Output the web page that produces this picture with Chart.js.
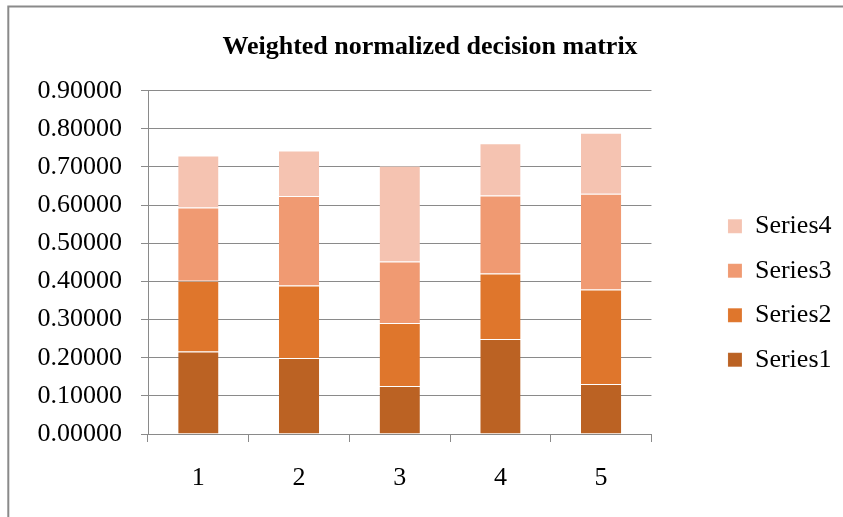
<!DOCTYPE html>
<html>
<head>
<meta charset="utf-8">
<script src="https://cdn.jsdelivr.net/npm/chart.js@4/dist/chart.umd.min.js"></script>
<style>
  html, body { margin: 0; padding: 0; background: #ffffff; }
  #wrap { width: 843px; height: 517px; }
</style>
</head>
<body>
<div id="wrap"><canvas id="matrixChart" width="843" height="517"></canvas></div>
<script>
// data
const alternatives = ['1', '2', '3', '4', '5'];
const series1 = [0.216, 0.199, 0.126, 0.249, 0.131];
const series2 = [0.186, 0.190, 0.165, 0.172, 0.248];
const series3 = [0.192, 0.235, 0.161, 0.204, 0.251];
const series4 = [0.136, 0.119, 0.251, 0.137, 0.160];
const yTicks = [0, 0.1, 0.2, 0.3, 0.4, 0.5, 0.6, 0.7, 0.8, 0.9];

const serif = 'Liberation Serif';

// grey frame of the chart (only left and top are visible in the crop)
const framePlugin = {
    id: 'frame',
    beforeDraw: function (chart) {
        const c = chart.ctx;
        c.save();
        c.fillStyle = '#ffffff';
        c.fillRect(0, 0, chart.width, chart.height);
        c.strokeStyle = '#8a8a8a';
        c.lineWidth = 2;
        c.beginPath();
        c.moveTo(8.3, chart.height);
        c.lineTo(8.3, 6.5);
        c.lineTo(chart.width, 6.5);
        c.stroke();
        c.restore();
    }
};

function makeSet(label, data, color) {
    return {
        label: label,
        data: data,
        backgroundColor: color,
        borderColor: 'rgba(255,255,255,0.45)',
        borderWidth: { top: 1 },
        borderSkipped: false,
        categoryPercentage: 1,
        barPercentage: 0.4
    };
}

const ctx = document.getElementById('matrixChart').getContext('2d');

const myChart = new Chart(ctx, {
    type: 'bar',
    data: {
        labels: alternatives,
        datasets: [
            makeSet('Series1', series1, '#bb6223'),
            makeSet('Series2', series2, '#df762c'),
            makeSet('Series3', series3, '#f09a72'),
            makeSet('Series4', series4, '#f5c3b1')
        ]
    },
    options: {
        responsive: false,
        animation: false,
        layout: {
            padding: { left: 18.5, right: 1.5, top: 0, bottom: 3 }
        },
        plugins: {
            title: {
                display: true,
                text: 'Weighted normalized decision matrix',
                color: '#000000',
                font: { family: serif, size: 26, weight: 'bold' },
                padding: { top: 32, bottom: 27.5 }
            },
            legend: {
                position: 'right',
                reverse: true,
                // empty title only pushes the entries down
                title: {
                    display: true,
                    text: '',
                    font: { family: serif, size: 10 },
                    padding: { top: 0, bottom: 60 }
                },
                labels: {
                    color: '#000000',
                    font: { family: serif, size: 26 },
                    boxWidth: 14,
                    boxHeight: 14,
                    padding: 18.5
                }
            },
            tooltip: { enabled: false }
        },
        scales: {
            x: {
                stacked: true,
                grid: {
                    offset: true,
                    drawOnChartArea: false,
                    color: '#8a8a8a',
                    tickLength: 8
                },
                border: { color: '#8a8a8a', width: 1 },
                ticks: {
                    color: '#000000',
                    font: { family: serif, size: 26, lineHeight: 1 },
                    padding: 23
                }
            },
            y: {
                stacked: true,
                min: 0,
                max: 0.9,
                afterBuildTicks: function (axis) {
                    axis.ticks = yTicks.map(v => ({ value: v }));
                },
                grid: {
                    color: '#8a8a8a',
                    tickLength: 7
                },
                border: { color: '#8a8a8a', width: 1 },
                ticks: {
                    color: '#000000',
                    font: { family: serif, size: 26 },
                    padding: 19,
                    callback: function (v) { return Number(v).toFixed(5); }
                }
            },
            // empty axis: keeps the gap between plot and legend
            gap: {
                position: 'right',
                grid: { display: false },
                border: { display: false },
                ticks: { display: false },
                afterFit: function (axis) { axis.width = 58; }
            }
        }
    },
    plugins: [framePlugin]
});
</script>
</body>
</html>
